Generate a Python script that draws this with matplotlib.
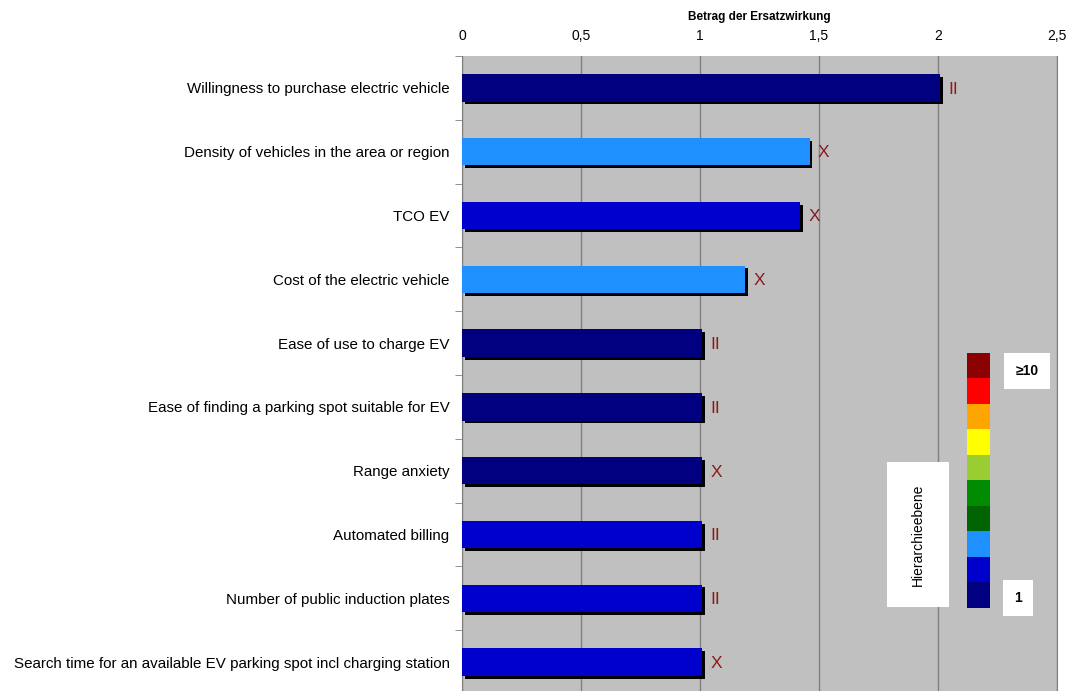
import numpy as np
import matplotlib
matplotlib.use("Agg")
import matplotlib.pyplot as plt
import matplotlib.patheffects as pe
from matplotlib.ticker import FixedLocator, FuncFormatter

plt.rcParams['font.family'] = ['Liberation Sans', 'DejaVu Sans']

# Factors, top to bottom
factors = [
    'Willingness to purchase electric vehicle',
    'Density of vehicles in the area or region',
    'TCO EV',
    'Cost of the electric vehicle',
    'Ease of use to charge EV',
    'Ease of finding a parking spot suitable for EV',
    'Range anxiety',
    'Automated billing',
    'Number of public induction plates',
    'Search time for an available EV parking spot incl charging station',
]
effect = [2.01, 1.46, 1.42, 1.19, 1.01, 1.01, 1.01, 1.01, 1.01, 1.01]
level = [1, 3, 2, 3, 1, 1, 1, 2, 2, 2]
marker = ['II', 'X', 'X', 'X', 'II', 'II', 'X', 'II', 'II', 'X']

# hierarchy level colours, level 1 .. >=10
level_colors = ['#000080', '#0000CD', '#1E90FF', '#006400', '#008B00',
                '#9ACD32', '#FFFF00', '#FFA500', '#FF0000', '#8B0000']

fig = plt.figure(figsize=(10.71, 6.91), dpi=100)
ax = fig.add_axes([0.4314, -0.0045, 0.5556, 0.9235])
ax.set_facecolor('#C0C0C0')

y = np.arange(len(factors))
bars = ax.barh(y, effect, height=0.43, color=[level_colors[l - 1] for l in level],
               zorder=3)
for b in bars:
    b.set_path_effects([pe.SimplePatchShadow(offset=(2, -2), shadow_rgbFace='black',
                                             alpha=1.0), pe.Normal()])

for yi, v, m in zip(y, effect, marker):
    ax.text(v + 0.035, yi + 0.02, m, color='#8B1A1A', fontsize=12.5, va='center',
            ha='left', zorder=4)

ax.set_xlim(0, 2.5)
ax.set_ylim(len(factors) - 0.5, -0.5)
ax.xaxis.tick_top()
ax.xaxis.set_label_position('top')
ax.set_xticks([0, 0.5, 1, 1.5, 2, 2.5])
ax.xaxis.set_major_formatter(FuncFormatter(lambda v, p: ('%g' % v).replace('.', ',')))
ax.tick_params(axis='x', length=0, labelsize=10, pad=9)
ax.set_xlabel('Betrag der Ersatzwirkung', fontsize=8.5, fontweight='bold', labelpad=7)
ax.grid(axis='x', color='#808080', linewidth=1, zorder=1)
ax.set_axisbelow(True)

ax.set_yticks(y)
ax.set_yticklabels(factors, fontsize=10.9)
ax.tick_params(axis='y', which='major', length=0, pad=9)
ax.yaxis.set_minor_locator(FixedLocator(np.arange(-0.5, len(factors), 1.0)))
ax.tick_params(axis='y', which='minor', length=5, color='#808080')

for s in ['top', 'bottom']:
    ax.spines[s].set_visible(False)
ax.spines['left'].set_color('#808080')
ax.spines['right'].set_color('#808080')

# colour scale for hierarchy level
cax = fig.add_axes([967 / 1071, 1 - 608 / 691, 23 / 1071, 255 / 691])
cax.imshow(np.arange(10).reshape(-1, 1)[::-1], aspect='auto',
           cmap=matplotlib.colors.ListedColormap(level_colors), origin='upper',
           extent=(0, 1, 0, 10))
cax.axis('off')

fig.text(1027 / 1071, 1 - 371 / 691, '≥10', fontsize=10, fontweight='bold',
         ha='center', va='center',
         bbox=dict(boxstyle='square,pad=0.8', facecolor='white', edgecolor='none'))
fig.text(1018 / 1071, 1 - 598 / 691, '1', fontsize=10, fontweight='bold',
         ha='center', va='center',
         bbox=dict(boxstyle='square,pad=0.8', facecolor='white', edgecolor='none'))
fig.patches.append(plt.Rectangle((887 / 1071, 1 - 607 / 691), 62 / 1071, 145 / 691,
                                 transform=fig.transFigure, facecolor='white',
                                 edgecolor='none', zorder=2))
fig.text(918 / 1071, 1 - 535 / 691, 'Hierarchieebene', fontsize=10, rotation=90,
         ha='center', va='center', zorder=3)

fig.savefig('out.png', dpi=100)
